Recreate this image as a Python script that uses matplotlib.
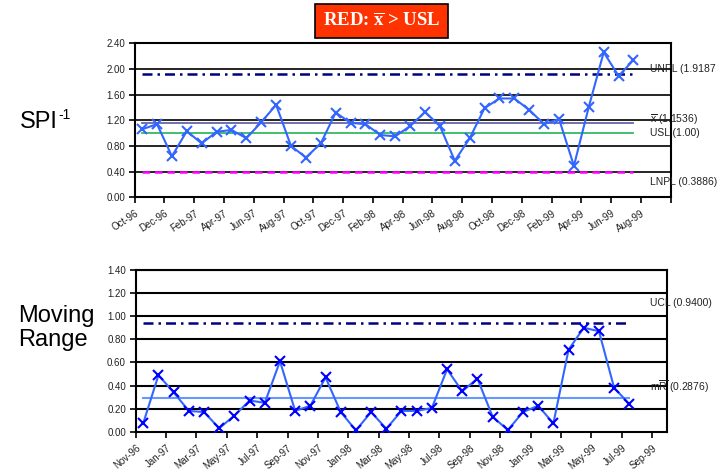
import matplotlib
matplotlib.use("Agg")
import matplotlib.pyplot as plt
import numpy as np

plt.rcParams['font.family'] = ['Liberation Sans', 'DejaVu Sans']
plt.rcParams['mathtext.fontset'] = 'custom'
plt.rcParams['mathtext.rm'] = 'Liberation Serif'
plt.rcParams['mathtext.bf'] = 'Liberation Serif:bold'
plt.rcParams['mathtext.it'] = 'Liberation Serif:italic'
plt.rcParams['mathtext.sf'] = 'Liberation Sans'

# SPI^-1 per month, Oct-96 .. Jul-99
spi = [1.06, 1.14, 0.64, 1.03, 0.84, 1.02, 1.05, 0.92, 1.17, 1.44,
       0.80, 0.62, 0.84, 1.32, 1.16, 1.14, 0.97, 0.95, 1.11, 1.33,
       1.11, 0.57, 0.92, 1.39, 1.54, 1.54, 1.36, 1.14, 1.22, 0.49,
       1.41, 2.26, 1.89, 2.14]
# moving range, Nov-96 .. Jul-99
mr = [0.075, 0.49, 0.34, 0.18, 0.17, 0.03, 0.14, 0.27, 0.25, 0.61,
      0.18, 0.225, 0.47, 0.17, 0.012, 0.17, 0.026, 0.18, 0.18, 0.205,
      0.54, 0.35, 0.46, 0.13, 0.014, 0.17, 0.225, 0.072, 0.71, 0.90,
      0.87, 0.38, 0.24]

unpl, xbar, usl, lnpl = 1.9187, 1.1536, 1.00, 0.3886
ucl, mrbar = 0.9400, 0.2876

top_labels = ["Oct-96", "Dec-96", "Feb-97", "Apr-97", "Jun-97", "Aug-97",
              "Oct-97", "Dec-97", "Feb-98", "Apr-98", "Jun-98", "Aug-98",
              "Oct-98", "Dec-98", "Feb-99", "Apr-99", "Jun-99", "Aug-99"]
bot_labels = ["Nov-96", "Jan-97", "Mar-97", "May-97", "Jul-97", "Sep-97",
              "Nov-97", "Jan-98", "Mar-98", "May-98", "Jul-98", "Sep-98",
              "Nov-98", "Jan-99", "Mar-99", "May-99", "Jul-99", "Sep-99"]

fig = plt.figure(figsize=(7.28, 4.73), dpi=100)
ax1 = fig.add_axes([0.185, 0.5829, 0.7363, 0.3256])
ax2 = fig.add_axes([0.1864, 0.0873, 0.7302, 0.3419])


def style(ax, ncat, labels, ymax, ystep, grid_lw, rot, xpad):
    ax.set_xlim(-0.5, ncat - 0.5)
    ax.set_ylim(0, ymax)
    yt = np.arange(0, ymax + 1e-9, ystep)
    ax.set_yticks(yt)
    ax.set_yticklabels(['%.2f' % v for v in yt], fontsize=7, color='#222222')
    for v in yt[1:]:
        ax.axhline(v, color='black', lw=grid_lw, zorder=1)
    xt = np.arange(-0.5, ncat, 2)
    ax.set_xticks(xt)
    ax.set_xticklabels(labels + [''] * (len(xt) - len(labels)),
                       rotation=rot, ha='right', va='top',
                       rotation_mode='anchor', fontsize=7, color='#222222')
    ax.tick_params(axis='both', direction='out', length=4, width=1.2, pad=3)
    ax.tick_params(axis='x', pad=xpad)
    for s in ax.spines.values():
        s.set_linewidth(1.5)


# top chart
x1 = np.arange(len(spi))
style(ax1, 36, top_labels, 2.4, 0.4, 1.2, 33, 4)
ax1.plot(x1, [unpl] * len(x1), color='#000080', lw=1.8, ls=(0, (4, 2, 1, 2)), zorder=2)
ax1.plot(x1, [xbar] * len(x1), color='#6666aa', lw=1.3, zorder=2)
ax1.plot(x1, [usl] * len(x1), color='#33bb66', lw=1.3, zorder=2)
ax1.plot(x1, [lnpl] * len(x1), color='#ff00ff', lw=1.8, ls=(0, (3, 2)), zorder=2)
ax1.plot(x1, spi, color='#3366ff', lw=1.5, marker='x', ms=7, mew=1.5, zorder=3)

# bottom chart
x2 = np.arange(len(mr))
style(ax2, 35, bot_labels, 1.4, 0.2, 1.5, 40, 4)
ax2.plot(x2, [ucl] * len(x2), color='#000080', lw=1.8, ls=(0, (4, 2, 1, 2)), zorder=2)
ax2.plot(x2, [mrbar] * len(x2), color='#6699ff', lw=1.5, zorder=2)
ax2.plot(x2, mr, color='#3366ff', lw=1.5, zorder=3)
ax2.plot(x2, mr, ls='none', marker='x', ms=7, mew=1.5, color='#0000ff', zorder=4)

# limit labels at right
lab = dict(fontsize=7.5, color='#222222', va='center', ha='left')
fig.text(650 / 728, 1 - 69 / 473, "UNPL (1.9187", **lab)
fig.text(650 / 728, 1 - 120 / 473, r"$\overline{\mathsf{x}}$ (1.1536)", **lab)
fig.text(650 / 728, 1 - 133 / 473, "USL (1.00)", **lab)
fig.text(650 / 728, 1 - 182 / 473, "LNPL (0.3886)", **lab)
fig.text(650 / 728, 1 - 303 / 473, "UCL (0.9400)", **lab)
fig.text(650 / 728, 1 - 387 / 473, r"m$\overline{\mathsf{R}}$ (0.2876)", **lab)

# side titles
fig.text(20 / 728, 1 - 128 / 473, "SPI", fontsize=17, va='baseline', ha='left')
fig.text(58 / 728, 1 - 119 / 473, "-1", fontsize=10, va='baseline', ha='left')
fig.text(18 / 728, 1 - 328 / 473, "Moving\nRange", fontsize=17, va='center', ha='left',
         linespacing=1.15)

# header box
fig.text(381.7 / 728, 1 - 21 / 473, r"RED: $\mathbf{\overline{x}}$ > USL",
         family='Liberation Serif', fontweight='bold', fontsize=13.5, color='white',
         ha='center', va='center',
         bbox=dict(boxstyle='square,pad=0.42', fc='#ff3300', ec='black', lw=1.2))

fig.savefig("out.png", dpi=100)
